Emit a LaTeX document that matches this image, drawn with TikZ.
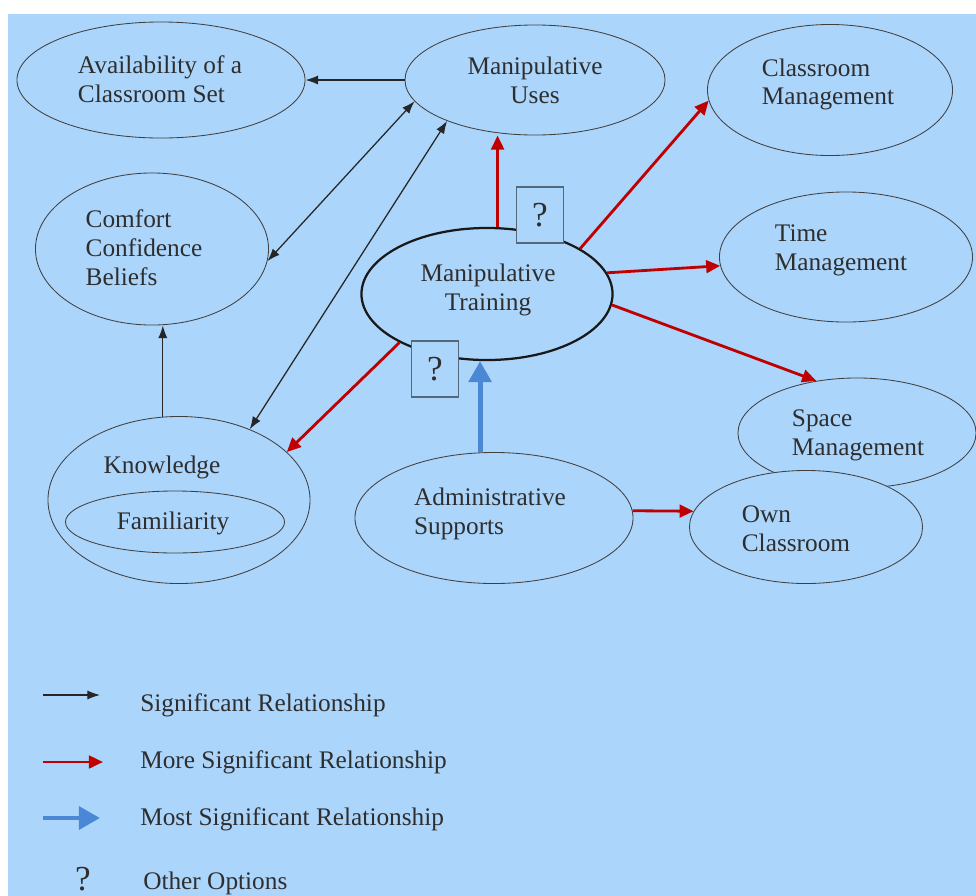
\documentclass[tikz,border=0pt]{standalone}
\usepackage{fontspec}
\setmainfont{Liberation Serif}
\usetikzlibrary{shapes.geometric,arrows.meta}
\definecolor{bgblue}{RGB}{172,213,251}
\definecolor{morered}{RGB}{192,0,0}
\definecolor{mostblue}{RGB}{74,136,214}
\definecolor{boxgray}{RGB}{84,104,124}

\begin{document}
\begin{tikzpicture}[x=0.025cm, y=-0.025cm,
  every node/.style={font=\fontsize{18}{20.5}\selectfont, text=black!82},
  bubble/.style={ellipse, draw=black!75, line width=0.6pt, fill=bgblue, inner sep=0pt},
  lbl/.style={align=left, inner sep=0pt},
  qbox/.style={draw=boxgray, line width=1.1pt, fill=bgblue, minimum width=1.175cm, minimum height=1.4cm, inner sep=0pt, font=\fontsize{25}{25}\selectfont},
  keytext/.style={anchor=base west, inner sep=0pt},
  sig/.style={-{Latex[length=9pt,width=6.5pt]}, line width=0.9pt, black!85},
  sigboth/.style={{Latex[length=9pt,width=6.5pt]}-{Latex[length=9pt,width=6.5pt]}, line width=0.9pt, black!85},
  more/.style={-{Triangle[length=10pt,width=9pt]}, line width=2pt, morered},
  most/.style={-{Triangle[length=15pt,width=16pt]}, line width=3.5pt, mostblue}]
\useasboundingbox (0,0) rectangle (976,896);
\fill[white] (0,0) rectangle (976,896);
\fill[bgblue] (8,14) rectangle (976,896);

\node[bubble, minimum width=7.2cm, minimum height=2.9cm] (avail) at (161,80) {};
\node[bubble, minimum width=6.5cm, minimum height=2.75cm] (uses) at (535,80) {};
\node[bubble, minimum width=6.125cm, minimum height=3.275cm] (classmgmt) at (830,90) {};
\node[bubble, minimum width=6.325cm, minimum height=3.25cm] (timemgmt) at (846,257) {};
\node[bubble, minimum width=5.95cm, minimum height=2.75cm] (spacemgmt) at (857,433) {};
\node[bubble, minimum width=5.825cm, minimum height=2.825cm] (ownroom) at (806,527) {};
\node[bubble, minimum width=5.825cm, minimum height=3.8cm] (comfort) at (152,249) {};
\node[bubble, minimum width=6.55cm, minimum height=4.175cm] (knowledge) at (179,500) {};
\node[bubble, minimum width=5.475cm, minimum height=1.55cm] (familiar) at (175,522) {};
\node[bubble, minimum width=6.95cm, minimum height=3.275cm] (admin) at (494,518) {};
\node[bubble, line width=1.6pt, draw=black!90, minimum width=6.275cm, minimum height=3.3cm] (training) at (487,294) {};

\node[lbl] (availtext) at (160,79.5) {Availability of a\\Classroom Set};
\node[lbl, align=center] (usestext) at (535,80) {Manipulative\\Uses};
\node[lbl] (classmgmttext) at (828,84.5) {Classroom\\Management};
\node[lbl] (timemgmttext) at (841,250.5) {Time\\Management};
\node[lbl] (spacemgmttext) at (858,435) {Space\\Management};
\node[lbl] (ownroomtext) at (796,528.5) {Own\\Classroom};
\node[lbl] (comforttext) at (144,248) {Comfort\\Confidence\\Beliefs};
\node[lbl] (knowtext) at (162,467) {Knowledge};
\node[lbl] (familiartext) at (173,523) {Familiarity};
\node[lbl] (admintext) at (490,513.5) {Administrative\\Supports};
\node[lbl, align=center] (trainingtext) at (488,290) {Manipulative\\Training};
\node[qbox] (qtop) at (540,215) {?};
\node[qbox] (qbottom) at (435,369) {?};

% significant
\draw[sig] (uses.west) -- (avail.east);
\draw[sigboth] (comfort.-6) -- (uses.190);
\draw[sigboth] (knowledge.45) -- (uses.205);
\draw[sig] (knowledge.101) -- (knowledge.101 |- comfort.south);
% more significant
\draw[more] (training.81) -- (training.81 |- uses.south);
\draw[more] (training.26) -- (classmgmt.185);
\draw[more] (training.10) -- (timemgmt.184);
\draw[more] (training.-5) -- (spacemgmt.128);
\draw[more] (training.209) -- (knowledge.24);
\draw[more] (admin.3) -- (ownroom.172);
% most significant
\draw[most] (admin.102) -- (admin.102 |- training.south);

% key
\coordinate (sigA) at (43,695);
\coordinate (sigB) at (100,695);
\coordinate (moreA) at (43,762);
\coordinate (moreB) at (103,762);
\coordinate (mostA) at (43,818);
\coordinate (mostB) at (100,818);
\draw[sig] (sigA) -- (sigB);
\draw[more] (moreA) -- (moreB);
\draw[most] (mostA) -- (mostB);
\node[keytext] (sigtext) at (140,711) {Significant Relationship};
\node[keytext] (moretext) at (140,768) {More Significant Relationship};
\node[keytext] (mosttext) at (140,825) {Most Significant Relationship};
\node[anchor=base, inner sep=0pt, font=\fontsize{25}{25}\selectfont] (qkey) at (83,890) {?};
\node[keytext] (othertext) at (143,889) {Other Options};
\end{tikzpicture}
\end{document}
